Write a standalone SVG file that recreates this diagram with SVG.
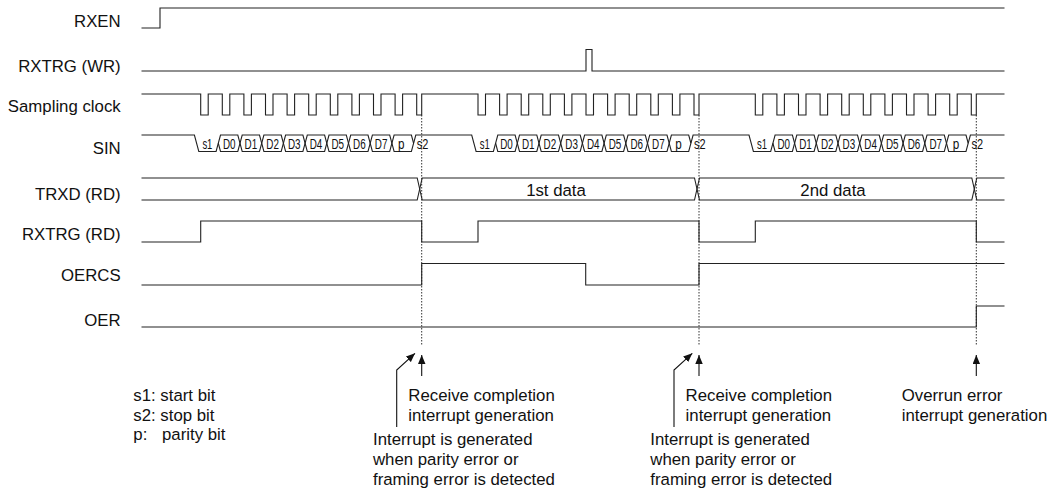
<svg xmlns="http://www.w3.org/2000/svg" width="1059" height="489" viewBox="0 0 1059 489">
<style>
.sig{fill:none;stroke:#222;stroke-width:1.1;stroke-linejoin:miter}
.lbl{font-family:"Liberation Sans",Arial,sans-serif;font-size:16.8px;fill:#111}
.cell{font-family:"Liberation Sans",Arial,sans-serif;font-size:14px;fill:#111;text-anchor:middle}
.dot{fill:none;stroke:#333;stroke-width:1;stroke-dasharray:1.5 1.5}
.arr{fill:none;stroke:#111;stroke-width:1.1;marker-end:url(#ah)}
</style>
<defs>
<marker id="ah" markerUnits="userSpaceOnUse" markerWidth="10" markerHeight="8" refX="9" refY="3.75" orient="auto">
<path d="M0,0 L9,3.75 L0,7.5 z" fill="#111"/>
</marker>
<g id="bits">
<text class="cell" x="207.4" y="149.2" textLength="10" lengthAdjust="spacingAndGlyphs">s1</text>
<text class="cell" x="229.2" y="149.2" textLength="12.6" lengthAdjust="spacingAndGlyphs">D0</text>
<text class="cell" x="250.9" y="149.2" textLength="12.6" lengthAdjust="spacingAndGlyphs">D1</text>
<text class="cell" x="272.6" y="149.2" textLength="12.6" lengthAdjust="spacingAndGlyphs">D2</text>
<text class="cell" x="294.3" y="149.2" textLength="12.6" lengthAdjust="spacingAndGlyphs">D3</text>
<text class="cell" x="316" y="149.2" textLength="12.6" lengthAdjust="spacingAndGlyphs">D4</text>
<text class="cell" x="337.7" y="149.2" textLength="12.6" lengthAdjust="spacingAndGlyphs">D5</text>
<text class="cell" x="359.4" y="149.2" textLength="12.6" lengthAdjust="spacingAndGlyphs">D6</text>
<text class="cell" x="381.1" y="149.2" textLength="12.6" lengthAdjust="spacingAndGlyphs">D7</text>
<text class="cell" x="401.3" y="149.2" textLength="6.5" lengthAdjust="spacingAndGlyphs">p</text>
<text class="cell" x="422.6" y="149.2" textLength="11.6" lengthAdjust="spacingAndGlyphs">s2</text>
</g>
</defs>
<rect width="1059" height="489" fill="#fff"/>

<g id="connectors">
<line class="dot" x1="421.7" y1="115" x2="421.7" y2="345"/>
<line class="dot" x1="699" y1="115" x2="699" y2="345"/>
<line class="dot" x1="976.3" y1="115" x2="976.3" y2="345"/>
<line class="arr" x1="421.7" y1="376" x2="421.7" y2="355"/>
<line class="arr" x1="699" y1="376" x2="699" y2="355"/>
<line class="arr" x1="976.3" y1="376" x2="976.3" y2="355"/>
<polyline class="arr" points="396.7,427 396.7,370 415,353.3"/>
<polyline class="arr" points="674,427 674,370 692.3,353.3"/>
</g>

<g id="rxen">
<text class="lbl" x="120.7" y="26.5" text-anchor="end">RXEN</text>
<path class="sig" d="M141.5,28 H160 V8 H1004.5"/>
</g>

<g id="rxtrg-wr">
<text class="lbl" x="120.7" y="71.5" text-anchor="end">RXTRG (WR)</text>
<path class="sig" d="M141.5,71 H586 V49.5 H592 V71 H1004.5"/>
</g>

<g id="sampling-clock">
<text class="lbl" x="120.7" y="111.5" text-anchor="end">Sampling clock</text>
<path class="sig" d="M141.5,94 H200.7 V115 H208.2 V94 H222.3 V115 H229.8 V94 H243.9 V115 H251.4 V94 H265.5 V115 H273 V94 H287.1 V115 H294.6 V94 H308.7 V115 H316.2 V94 H330.3 V115 H337.8 V94 H351.9 V115 H359.4 V94 H373.5 V115 H381 V94 H395.1 V115 H402.6 V94 H416.7 V115 H421.7 V94 H478 V115 H485.5 V94 H499.6 V115 H507.1 V94 H521.2 V115 H528.7 V94 H542.8 V115 H550.3 V94 H564.4 V115 H571.9 V94 H586 V115 H593.5 V94 H607.6 V115 H615.1 V94 H629.2 V115 H636.7 V94 H650.8 V115 H658.3 V94 H672.4 V115 H679.9 V94 H694 V115 H699 V94 H755.3 V115 H762.8 V94 H776.9 V115 H784.4 V94 H798.5 V115 H806 V94 H820.1 V115 H827.6 V94 H841.7 V115 H849.2 V94 H863.3 V115 H870.8 V94 H884.9 V115 H892.4 V94 H906.5 V115 H914 V94 H928.1 V115 H935.6 V94 H949.7 V115 H957.2 V94 H971.3 V115 H976.3 V94 H1004.5"/>
</g>

<g id="sin">
<text class="lbl" x="120.7" y="154" text-anchor="end">SIN</text>
<path class="sig" d="M141.5,135 H194.4 L198.8,151.5 H216.1 L220.5,135 H237.8 L242.2,151.5 H259.5 L263.9,135 H281.2 L285.6,151.5 H302.9 L307.3,135 H324.6 L329,151.5 H346.3 L350.7,135 H368 L372.4,151.5 H389.7 L394.1,135 H411.4 L413.6,143.25"/>
<path class="sig" d="M218.3,143.25 L220.5,151.5 H237.8 L242.2,135 H259.5 L263.9,151.5 H281.2 L285.6,135 H302.9 L307.3,151.5 H324.6 L329,135 H346.3 L350.7,151.5 H368 L372.4,135 H389.7 L394.1,151.5 H411.4 L415.8,135 H471.7 L476.1,151.5 H493.4 L497.8,135 H515.1 L519.5,151.5 H536.8 L541.2,135 H558.5 L562.9,151.5 H580.2 L584.6,135 H601.9 L606.3,151.5 H623.6 L628,135 H645.3 L649.7,151.5 H667 L671.4,135 H688.7 L690.9,143.25"/>
<path class="sig" d="M495.6,143.25 L497.8,151.5 H515.1 L519.5,135 H536.8 L541.2,151.5 H558.5 L562.9,135 H580.2 L584.6,151.5 H601.9 L606.3,135 H623.6 L628,151.5 H645.3 L649.7,135 H667 L671.4,151.5 H688.7 L693.1,135 H749 L753.4,151.5 H770.7 L775.1,135 H792.4 L796.8,151.5 H814.1 L818.5,135 H835.8 L840.2,151.5 H857.5 L861.9,135 H879.2 L883.6,151.5 H900.9 L905.3,135 H922.6 L927,151.5 H944.3 L948.7,135 H966 L968.2,143.25"/>
<path class="sig" d="M772.9,143.25 L775.1,151.5 H792.4 L796.8,135 H814.1 L818.5,151.5 H835.8 L840.2,135 H857.5 L861.9,151.5 H879.2 L883.6,135 H900.9 L905.3,151.5 H922.6 L927,135 H944.3 L948.7,151.5 H966 L970.4,135 H1004.5"/>
<use id="sin-bits-1" href="#bits"/>
<use id="sin-bits-2" href="#bits" x="277.3"/>
<use id="sin-bits-3" href="#bits" x="554.6"/>
</g>

<g id="trxd-rd">
<text class="lbl" x="120.7" y="199.5" text-anchor="end">TRXD (RD)</text>
<path class="sig" d="M141.5,178 H417.2 L422.2,200 H694.5 L699.5,178 H971.8 L976.8,200 H1004.5"/>
<path class="sig" d="M141.5,200 H417.2 L422.2,178 H694.5 L699.5,200 H971.8 L976.8,178 H1004.5"/>
<text class="lbl" x="556" y="195.5" text-anchor="middle">1st data</text>
<text class="lbl" x="833" y="195.5" text-anchor="middle">2nd data</text>
</g>

<g id="rxtrg-rd">
<text class="lbl" x="120.7" y="240" text-anchor="end">RXTRG (RD)</text>
<path class="sig" d="M141.5,242 H200.7 V221 H421.7 V242 H478 V221 H699 V242 H755.3 V221 H976.3 V242 H1004.5"/>
</g>

<g id="oercs">
<text class="lbl" x="120.7" y="281" text-anchor="end">OERCS</text>
<path class="sig" d="M141.5,285 H421.7 V263.5 H585.7 V285 H699 V263.5 H1004.5"/>
</g>

<g id="oer">
<text class="lbl" x="120.7" y="325.5" text-anchor="end">OER</text>
<path class="sig" d="M141.5,327 H976.3 V306 H1004.5"/>
</g>

<g id="legend">
<text class="lbl" x="133.3" y="401">s1: start bit</text>
<text class="lbl" x="133.3" y="420.5">s2: stop bit</text>
<text class="lbl" x="133.3" y="440">p:<tspan x="162">parity bit</tspan></text>
</g>

<g id="note-1">
<text class="lbl" x="408.3" y="401">Receive completion</text>
<text class="lbl" x="408.3" y="420.5">interrupt generation</text>
<text class="lbl" x="373" y="445">Interrupt is generated</text>
<text class="lbl" x="373" y="465">when parity error or</text>
<text class="lbl" x="373" y="484.5">framing error is detected</text>
</g>

<g id="note-2">
<text class="lbl" x="685.6" y="401">Receive completion</text>
<text class="lbl" x="685.6" y="420.5">interrupt generation</text>
<text class="lbl" x="650.3" y="445">Interrupt is generated</text>
<text class="lbl" x="650.3" y="465">when parity error or</text>
<text class="lbl" x="650.3" y="484.5">framing error is detected</text>
</g>

<g id="note-3">
<text class="lbl" x="901.7" y="401">Overrun error</text>
<text class="lbl" x="901.7" y="420.5">interrupt generation</text>
</g>
</svg>
